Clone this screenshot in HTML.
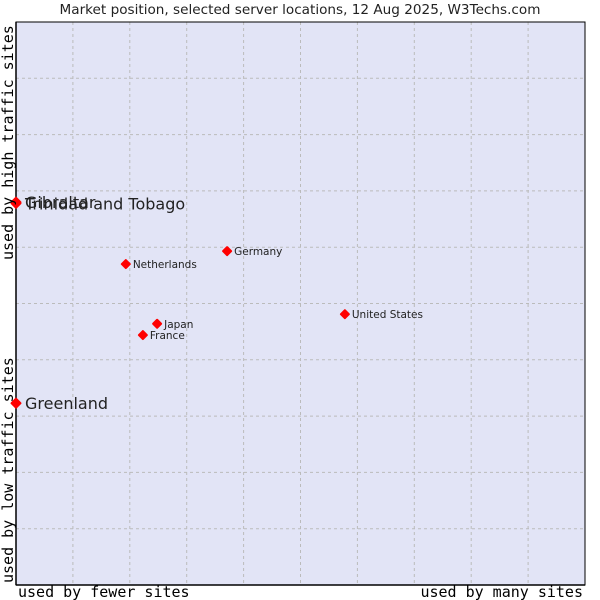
<!DOCTYPE html>
<html><head><meta charset="utf-8"><style>
body{margin:0;background:#fff;width:600px;height:600px;overflow:hidden}
svg{display:block}
</style></head><body>
<svg id="chart" width="600" height="600" xmlns="http://www.w3.org/2000/svg">
<text x="300" y="14" text-anchor="middle" font-family="DejaVu Sans, sans-serif" font-size="13.6" fill="#222">Market position, selected server locations, 12 Aug 2025, W3Techs.com</text>
<rect x="16" y="22" width="569" height="563" fill="#e2e4f6"/>
<g id="grid"></g>
<line x1="16" y1="22" x2="16" y2="585" stroke="#000" stroke-width="1.5"/>
<line x1="16" y1="585" x2="585" y2="585" stroke="#000" stroke-width="1.5"/>
<rect x="16" y="22" width="569" height="563" fill="none" stroke="#000" stroke-width="1"/>
<g id="points"></g>
<text x="18" y="597" font-family="DejaVu Sans Mono, Liberation Mono, monospace" font-size="15" fill="#000">used by fewer sites</text>
<text x="583" y="597" text-anchor="end" font-family="DejaVu Sans Mono, Liberation Mono, monospace" font-size="15" fill="#000">used by many sites</text>
<text transform="translate(13,583) rotate(-90)" font-family="DejaVu Sans Mono, Liberation Mono, monospace" font-size="15" fill="#000">used by low traffic sites</text>
<text transform="translate(13,260) rotate(-90)" font-family="DejaVu Sans Mono, Liberation Mono, monospace" font-size="15" fill="#000">used by high traffic sites</text>
</svg>
<script>
const names=["Gibraltar","Trinidad and Tobago","Greenland","Netherlands","Germany","United States","Japan","France"];
const xVals=[0,0,0,19.3,37.1,57.8,24.8,22.3];
const yVals=[68.0,67.8,32.3,57.0,59.3,48.1,46.4,44.4];
const bigLabel=[true,true,true,false,false,false,false,false];
const L=16,T=22,W=569,H=563;
const sx=v=>L+v/100*W, sy=v=>T+H-v/100*H;
const NS="http://www.w3.org/2000/svg";
const grid=document.getElementById('grid');
for(let i=1;i<10;i++){
  const v=document.createElementNS(NS,'line');
  v.setAttribute('x1',sx(i*10));v.setAttribute('x2',sx(i*10));v.setAttribute('y1',T);v.setAttribute('y2',T+H);
  v.setAttribute('stroke','#bbb');v.setAttribute('stroke-dasharray','3,3');
  
  
  grid.appendChild(v);
  const h=document.createElementNS(NS,'line');
  h.setAttribute('y1',sy(i*10));h.setAttribute('y2',sy(i*10));h.setAttribute('x1',L);h.setAttribute('x2',L+W);
  h.setAttribute('stroke','#bbb');h.setAttribute('stroke-dasharray','3,3');
  
  
  grid.appendChild(h);
}
const pts=document.getElementById('points');
names.forEach((n,i)=>{
  const x=sx(xVals[i]),y=sy(yVals[i]);
  const big=bigLabel[i];
  const r=big?4.5:4;
  const d=document.createElementNS(NS,'polygon');
  d.setAttribute('points',`${x-r},${y} ${x},${y-r} ${x+r},${y} ${x},${y+r}`);
  d.setAttribute('fill','#f00');d.setAttribute('stroke','#f00');d.setAttribute('stroke-width','2');d.setAttribute('stroke-linejoin','round');
  
  
  pts.appendChild(d);
  const t=document.createElementNS(NS,'text');
  t.setAttribute('x',x+(big?9:7));t.setAttribute('y',y+(big?6:4));
  t.setAttribute('font-family','DejaVu Sans, sans-serif');t.setAttribute('font-size',big?'16':'10.5');t.setAttribute('fill','#222');
  t.textContent=n;
  
  
  pts.appendChild(t);
});
</script>
</body></html>
